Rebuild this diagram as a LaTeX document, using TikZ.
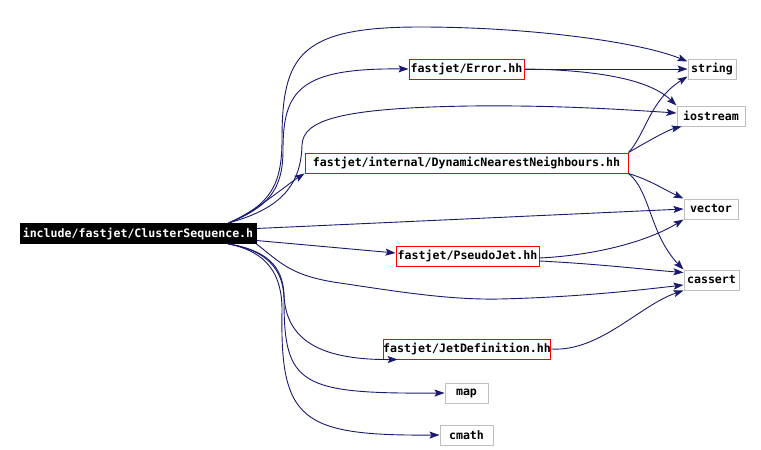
\documentclass[tikz,border=0pt]{standalone}
\usepackage{fontspec}
\setmonofont{DejaVu Sans Mono}
\usetikzlibrary{arrows.meta}
\definecolor{depblue}{RGB}{25,25,112}
\definecolor{boxgray}{RGB}{191,191,191}
\tikzset{
  file/.style={draw, line width=1pt, minimum height=20pt, inner xsep=0pt, inner ysep=0pt,
    font=\ttfamily\bfseries\fontsize{11.6}{12}\selectfont},
  localfile/.style={file, draw=red, fill=white},
  sysfile/.style={file, draw=boxgray, fill=white},
  mainfile/.style={file, draw=black, fill=black, text=white},
  dep/.style={draw=depblue, line width=0.9pt, -{Stealth[length=10pt,width=7pt,inset=2pt]}}
}

\begin{document}
\begin{tikzpicture}[x=1pt, y=-1pt]
    \useasboundingbox (0,0) rectangle (761,450);

    \node[mainfile, minimum width=236pt] (root) at (138,233.5) {include/fastjet/ClusterSequence.h};
    \node[localfile, minimum width=115pt] (error) at (466.5,69) {fastjet/Error.hh};
    \node[localfile, minimum width=323pt] (dnn) at (466.5,163) {fastjet/internal/DynamicNearestNeighbours.hh};
    \node[localfile, minimum width=143pt] (pseudojet) at (467.5,256) {fastjet/PseudoJet.hh};
    \node[localfile, minimum width=164pt] (jetdef) at (467,349) {fastjet/JetDefinition.hh};
    \node[sysfile, minimum width=48pt] (string) at (712,69) {string};
    \node[sysfile, minimum width=68pt] (iostream) at (711,116) {iostream};
    \node[sysfile, minimum width=54pt] (vector) at (711,209) {vector};
    \node[sysfile, minimum width=55pt] (cassert) at (711.5,280) {cassert};
    \node[sysfile, minimum width=43pt] (map) at (466.5,393) {map};
    \node[sysfile, minimum width=53pt] (cmath) at (466.5,435) {cmath};

    \draw[dep] ([xshift=-28pt]root.north east) .. controls (270,205) and (282,185) .. (282,140)
        .. controls (282,55) and (300,27) .. (420,27) .. controls (530,27) and (640,42) .. ([yshift=-3pt]string.north west);
    \draw[dep] ([xshift=-28pt]root.north east) .. controls (268,207) and (283,190) .. (283,150)
        .. controls (283,90) and (300,68) .. (error.west);
    \draw[dep] ([xshift=-28pt]root.north east) .. controls (275,210) and (301,190) .. (302,145)
        .. controls (303,120) and (340,108) .. (470,106) .. controls (560,105) and (630,110) .. ([yshift=3pt]iostream.west);
    \draw[dep] ([xshift=-28pt]root.north east) .. controls (255,212) and (285,186) .. (dnn.south west);
    \draw[dep] ([yshift=5pt]root.east) -- (vector.west);
    \draw[dep] ([yshift=-7pt]root.east) -- ([yshift=3pt]pseudojet.west);
    \draw[dep] (root.south east) .. controls (280,262) and (290,276) .. (340,283)
        .. controls (400,292) and (450,300) .. (500,299) .. controls (580,297) and (640,290) .. ([yshift=-5pt]cassert.west);
    \draw[dep] ([xshift=-28pt]root.south east) .. controls (265,250) and (283,265) .. (284,295)
        .. controls (286,340) and (320,360) .. ([xshift=15pt]jetdef.south west);
    \draw[dep] ([xshift=-28pt]root.south east) .. controls (265,250) and (284,268) .. (284,300)
        .. controls (284,385) and (300,394) .. (map.west);
    \draw[dep] ([xshift=-28pt]root.south east) .. controls (268,252) and (282,275) .. (282,310)
        .. controls (280,420) and (300,436) .. (cmath.west);

    \draw[dep] (error.east) -- (string.west);
    \draw[dep] (error.east) .. controls (600,70) and (650,80) .. (iostream.north west);
    \draw[dep] (dnn.north east) .. controls (645,135) and (650,100) .. ([yshift=3pt]string.south west);
    \draw[dep] (dnn.north east) .. controls (650,140) and (668,130) .. ([xshift=5pt]iostream.south west);
    \draw[dep] (dnn.south east) .. controls (650,180) and (665,190) .. (vector.north west);
    \draw[dep] (dnn.south east) .. controls (650,190) and (650,235) .. (cassert.north west);
    \draw[dep] ([yshift=-2pt]pseudojet.east) .. controls (600,255) and (650,240) .. (vector.south west);
    \draw[dep] ([yshift=-5pt]pseudojet.east) .. controls (600,264) and (650,270) .. ([yshift=-3pt]cassert.north west);
    \draw[dep] (jetdef.east) .. controls (600,352) and (640,305) .. (cassert.south west);
\end{tikzpicture}
\end{document}
